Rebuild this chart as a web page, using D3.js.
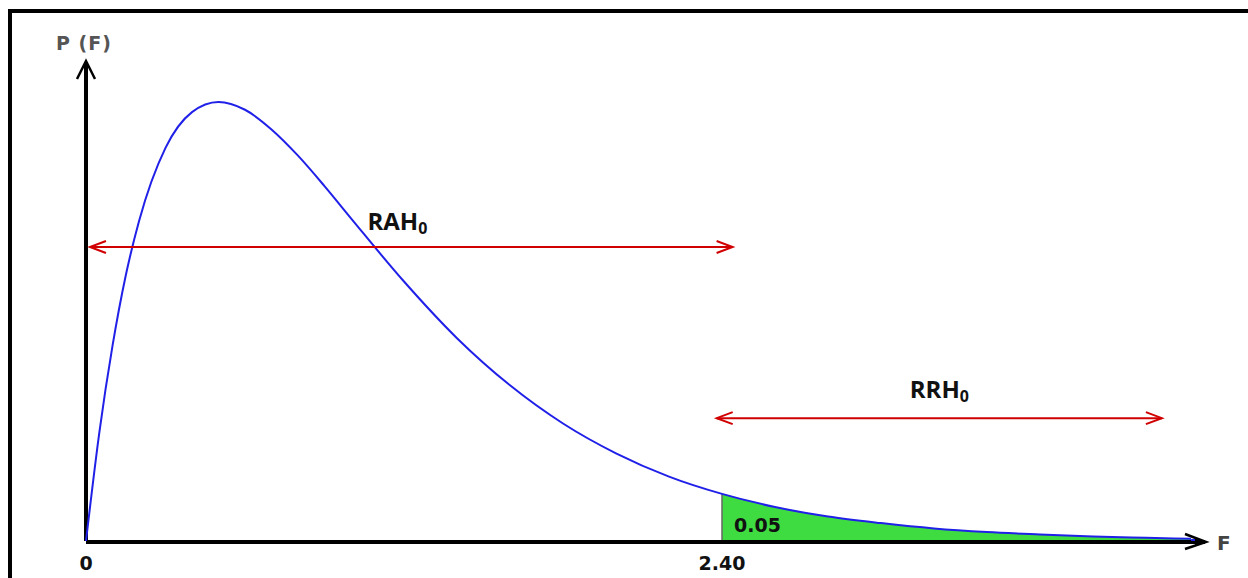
<!DOCTYPE html>
<html><head><meta charset="utf-8">
<script src="https://cdn.jsdelivr.net/npm/d3@7"></script>
<style>body{margin:0;background:#fff}svg{display:block}</style>
</head><body>
<svg id="c" width="1248" height="578"></svg>
<script>
// Curve points (F, density)
const fValues = [0,0.05,0.1,0.15,0.2,0.3,0.4,0.5,0.6,0.7,0.8,0.9,1.0,1.2,1.4,1.6,1.8,2.0,2.2,2.4,2.6,2.8,3.0,3.2,3.4,3.6,3.8,4.0,4.17];
const density = [0,0.181,0.327,0.445,0.536,0.659,0.719,0.736,0.723,0.690,0.646,0.595,0.541,0.435,0.340,0.261,0.197,0.147,0.108,0.079,0.057,0.041,0.030,0.021,0.015,0.011,0.0076,0.0054,0.0038];
const critical = 2.40;
const tickLabels = ["0","2.40"];
const tickValues = [0, 2.40];
const alphaLabel = "0.05";
const regionNames = ["RAH", "RRH"];
const regionFrom = [0.015, 2.38];
const regionTo = [2.44, 4.06];
const regionLevel = [0.493, 0.206];
const labelAt = [1.175, 3.22];
const labelLevel = [0.522, 0.240];

const svg = d3.select("#c");
const x = d3.scaleLinear().domain([0, 2.40]).range([86, 722]);
const y = d3.scaleLinear().domain([0, 0.736]).range([541, 102]);

// frame
svg.append("rect").attr("x",10).attr("y",11).attr("width",1260).attr("height",600)
  .attr("fill","none").attr("stroke","#000").attr("stroke-width",4);

const pts = fValues.map((f,i)=>[f,density[i]]);
const tail = pts.filter(p=>p[0]>=critical);

// shaded area
const area = d3.area().x(d=>x(d[0])).y0(y(0)).y1(d=>y(d[1])).curve(d3.curveMonotoneX);
svg.append("path").datum(tail).attr("d",area).attr("fill","#3fdc41");
svg.append("line").attr("x1",x(critical)).attr("x2",x(critical))
  .attr("y1",y(0)).attr("y2",y(0.079)).attr("stroke","#666").attr("stroke-width",1.5);

// axes
svg.append("line").attr("x1",x(0)).attr("x2",1205).attr("y1",y(0)+1).attr("y2",y(0)+1)
  .attr("stroke","#000").attr("stroke-width",4);
svg.append("line").attr("x1",x(0)).attr("x2",x(0)).attr("y1",y(0)).attr("y2",64)
  .attr("stroke","#000").attr("stroke-width",4);
// arrowheads
svg.append("path").attr("d",`M1185,534 L1206,542 L1185,549`).attr("fill","none").attr("stroke","#000").attr("stroke-width",2.5);
svg.append("path").attr("d",`M1195,537 L1206,542 L1195,546 Z`).attr("fill","#000");
svg.append("path").attr("d",`M${x(0)-9},79 L${x(0)},61 L${x(0)+9},79`).attr("fill","none").attr("stroke","#000").attr("stroke-width",2.5);

// curve
const line = d3.line().x(d=>x(d[0])).y(d=>y(d[1])).curve(d3.curveMonotoneX);
svg.append("path").datum(pts).attr("d",line).attr("fill","none").attr("stroke","#2020e8").attr("stroke-width",2);
svg.append("line").attr("x1",x(4.17)).attr("x2",1195).attr("y1",y(0)-1).attr("y2",y(0)-1).attr("stroke","#2020e8").attr("stroke-width",2);

// tick labels
svg.selectAll("text.tick").data(tickValues).enter().append("text")
  .attr("x",d=>x(d)).attr("y",570).attr("text-anchor","middle")
  .attr("font-family","DejaVu Sans").attr("font-weight","bold").attr("font-size",19).attr("fill","#111")
  .text((d,i)=>tickLabels[i]);
svg.append("text").attr("x",1217).attr("y",550).attr("font-family","DejaVu Sans").attr("font-weight","bold")
  .attr("font-size",20).attr("fill","#444").text("F");
svg.append("text").attr("x",84).attr("y",50).attr("text-anchor","middle").attr("font-family","DejaVu Sans").attr("font-weight","bold")
  .attr("font-size",19).attr("letter-spacing",1).attr("fill","#555").text("P (F)");
svg.append("text").attr("x",x(critical)+12).attr("y",532).attr("font-family","DejaVu Sans").attr("font-weight","bold")
  .attr("font-size",19).attr("fill","#111").text(alphaLabel);

// region arrows
const red = "#d10000";
regionNames.forEach((name,i)=>{
  const x1=x(regionFrom[i]), x2=x(regionTo[i]), yy=y(regionLevel[i]);
  svg.append("line").attr("x1",x1).attr("x2",x2).attr("y1",yy).attr("y2",yy).attr("stroke",red).attr("stroke-width",2);
  svg.append("path").attr("d",`M${x1+16},${yy-6} L${x1},${yy} L${x1+16},${yy+6}`).attr("fill","none").attr("stroke",red).attr("stroke-width",2);
  svg.append("path").attr("d",`M${x2-16},${yy-6} L${x2},${yy} L${x2-16},${yy+6}`).attr("fill","none").attr("stroke",red).attr("stroke-width",2);
  const t = svg.append("text").attr("x",x(labelAt[i])).attr("y",y(labelLevel[i])).attr("text-anchor","middle")
    .attr("font-family","Open Sans").attr("font-weight","bold").attr("font-size",24).attr("fill","#111");
  t.append("tspan").text(name);
  t.append("tspan").attr("font-size",16).attr("dy",4).text("0");
});
</script>
</body></html>
